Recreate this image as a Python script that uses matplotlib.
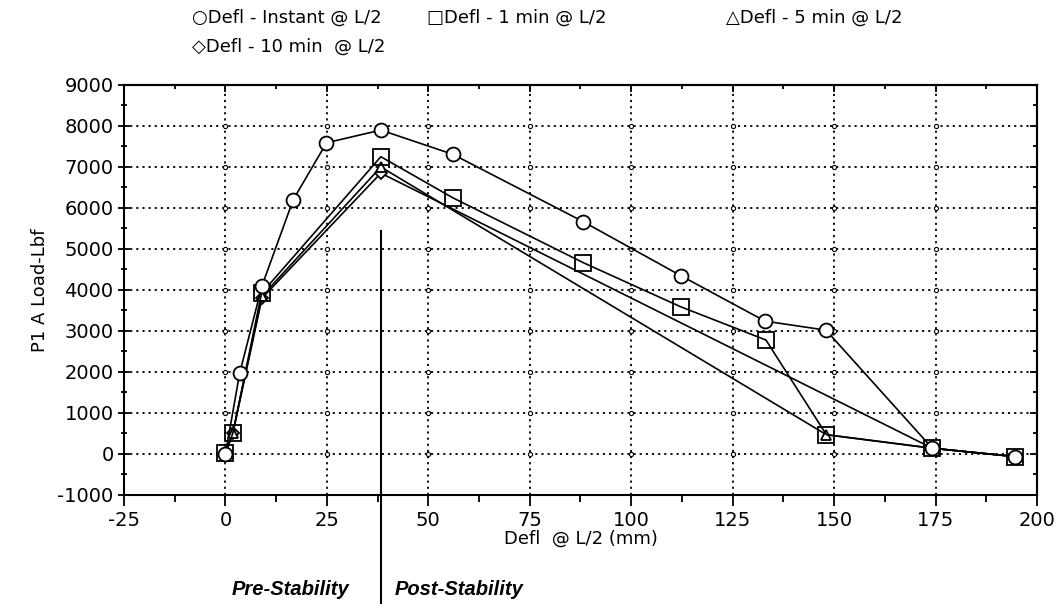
import numpy as np
import matplotlib.pyplot as plt
from matplotlib.ticker import MultipleLocator

# deflection (mm) and load (lbf)
defl_instant = [0, 3.5, 9, 16.7, 24.9, 38.3, 56, 88.1, 112.2, 133, 148, 174.2, 194.7]
load_instant = [0, 1970, 4100, 6200, 7590, 7900, 7310, 5670, 4350, 3240, 3020, 140, -65]

defl_1min = [0, 1.8, 8.9, 38.3, 56, 88.1, 112.2, 133.2, 148.1, 174.2, 194.7]
load_1min = [20, 500, 3920, 7250, 6250, 4670, 3590, 2780, 470, 140, -65]

defl_5min = [0, 1.8, 9, 38.3, 148.1, 174.2, 194.7]
load_5min = [20, 500, 3850, 7000, 470, 140, -65]

defl_10min = [0, 1.8, 9, 38.3, 174.2, 194.7]
load_10min = [20, 500, 3800, 6850, 140, -65]

legend_labels = ["\u25cbDefl - Instant @ L/2", "\u25a1Defl - 1 min @ L/2",
                 "\u25b3Defl - 5 min @ L/2", "\u25c7Defl - 10 min  @ L/2"]

stability_x = 38.3

plt.rcParams['font.family'] = ['DejaVu Sans']
plt.rcParams['axes.unicode_minus'] = False

fig = plt.figure(figsize=(10.59, 6.04), dpi=100)
ax = fig.add_axes([0.1171, 0.1805, 0.8621, 0.6788])

line_kw = dict(color="black", linewidth=1.2, markerfacecolor="white",
               markeredgecolor="black", markeredgewidth=1.3)
ax.plot(defl_10min, load_10min, marker="D", markersize=6, zorder=3, **line_kw)
ax.plot(defl_5min, load_5min, marker="^", markersize=7, zorder=3, **line_kw)
ax.plot(defl_1min, load_1min, marker="s", markersize=11, zorder=4,
        **{**line_kw, "markerfacecolor": "none"})
ax.plot(defl_instant, load_instant, marker="o", markersize=10, zorder=5, **line_kw)

ax.set_xlim(-25, 200)
ax.set_ylim(-1000, 9000)
ax.xaxis.set_major_locator(MultipleLocator(25))
ax.xaxis.set_minor_locator(MultipleLocator(12.5))
ax.yaxis.set_major_locator(MultipleLocator(1000))
ax.yaxis.set_minor_locator(MultipleLocator(500))
ax.grid(True, which="major", color="black", linestyle=(0, (1.2, 2.2)), linewidth=1.3)

# little open circles where the grid lines cross
gx, gy = np.meshgrid(np.arange(0, 200, 25), np.arange(0, 9000, 1000))
ax.plot(gx.ravel(), gy.ravel(), linestyle="none", marker="o", markersize=3,
        markerfacecolor="white", markeredgecolor="black", markeredgewidth=0.8, zorder=2)

ax.tick_params(axis="x", which="both", direction="out", labelsize=14, width=1.3)
ax.tick_params(axis="y", which="both", direction="inout", labelsize=14, width=1.3)
ax.tick_params(which="major", length=8)
ax.tick_params(which="minor", length=5)

top = ax.secondary_xaxis("top")
top.xaxis.set_major_locator(MultipleLocator(25))
top.xaxis.set_minor_locator(MultipleLocator(12.5))
top.tick_params(which="both", direction="in", labeltop=False, width=1.3)
top.tick_params(which="major", length=5)
top.tick_params(which="minor", length=3)
right = ax.secondary_yaxis("right")
right.yaxis.set_major_locator(MultipleLocator(1000))
right.yaxis.set_minor_locator(MultipleLocator(500))
right.tick_params(which="both", direction="in", labelright=False, width=1.3)
right.tick_params(which="major", length=5)
right.tick_params(which="minor", length=3)
for a in (ax, top, right):
    for s in a.spines.values():
        s.set_linewidth(1.5)

ax.set_xlabel("Defl  @ L/2 (mm)", fontsize=13, labelpad=0)
ax.set_ylabel("P1 A Load-Lbf", fontsize=13, labelpad=6)

# stability divider
ax.plot([stability_x, stability_x], [5450, -3650], color="black", linewidth=1.5,
        clip_on=False, zorder=6)
fig.text(0.330, 0.008, "Pre-Stability", ha="right", va="bottom", fontsize=14.5,
         fontweight="bold", fontstyle="italic", family="Liberation Sans")
fig.text(0.373, 0.008, "Post-Stability", ha="left", va="bottom", fontsize=14.5,
         fontweight="bold", fontstyle="italic", family="Liberation Sans")

# legend as plain text rows
fig.text(0.181, 0.970, legend_labels[0], ha="left", va="center", fontsize=13)
fig.text(0.403, 0.970, legend_labels[1], ha="left", va="center", fontsize=13)
fig.text(0.686, 0.970, legend_labels[2], ha="left", va="center", fontsize=13)
fig.text(0.181, 0.922, legend_labels[3], ha="left", va="center", fontsize=13)

fig.savefig("out.png", dpi=100)
